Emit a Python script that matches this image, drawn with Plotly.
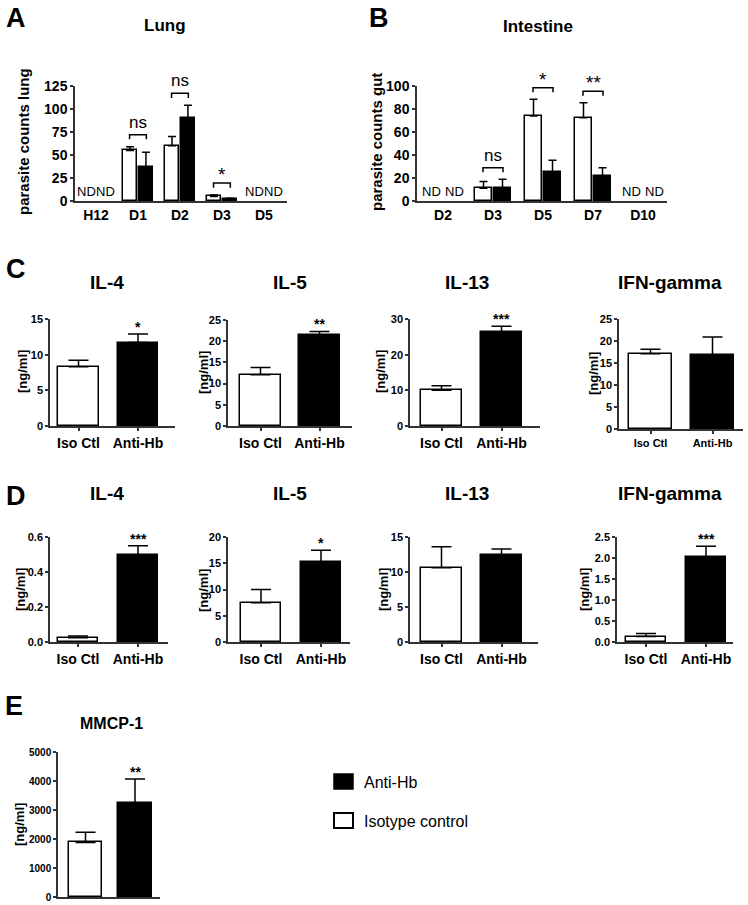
import plotly.graph_objects as go

W, H = 748, 905
OFF = 0  # body margin is removed by the post_script below
FONT = "Liberation Sans, Arial, sans-serif"

# ---------------- data ----------------
# Panel A: lung parasite counts
lung_days = ["H12", "D1", "D2", "D3", "D5"]
lung_iso = [None, 55, 60, 5, None]
lung_iso_sem = [None, 4, 10, 1.5, None]
lung_anti = [None, 37, 90, 2, None]
lung_anti_sem = [None, 16, 14, 1, None]
lung_sig = ["", "ns", "ns", "*", ""]

# Panel B: intestine parasite counts
gut_days = ["D2", "D3", "D5", "D7", "D10"]
gut_iso = [None, 11, 74, 72.5, None]
gut_iso_sem = [None, 6, 14.5, 13, None]
gut_anti = [None, 11.5, 25, 21.5, None]
gut_anti_sem = [None, 7.5, 10.5, 7.5, None]
gut_sig = ["", "ns", "*", "**", ""]

groups = ["Iso Ctl", "Anti-Hb"]

# Panel C
c_il4 = [8.3, 11.7];   c_il4_sem = [0.9, 1.2]
c_il5 = [12.1, 21.5];  c_il5_sem = [1.7, 0.8]
c_il13 = [10.0, 26.3]; c_il13_sem = [1.3, 1.7]
c_ifn = [17.1, 16.8];  c_ifn_sem = [1.0, 4.1]
c_sig = ["*", "**", "***", ""]

# Panel D
d_il4 = [0.025, 0.495]; d_il4_sem = [0.01, 0.055]
d_il5 = [7.5, 15.3];    d_il5_sem = [2.5, 2.2]
d_il13 = [10.6, 12.4];  d_il13_sem = [3.0, 0.9]
d_ifn = [0.13, 2.02];   d_ifn_sem = [0.07, 0.26]
d_sig = ["***", "*", "", "***"]

# Panel E
e_mmcp = [1880, 3230]; e_mmcp_sem = [350, 840]
e_sig = "**"

cyto_titles = ["IL-4", "IL-5", "IL-13", "IFN-gamma"]

# ---------------- helpers ----------------
fig = go.Figure()
layout = dict(width=W, height=H, margin=dict(l=0, r=0, t=0, b=0, pad=0, autoexpand=False),
              paper_bgcolor="white", plot_bgcolor="white", showlegend=False,
              bargap=0)
annotations = []
shapes = []
AX = "#333333"


def px_x(x):
    return (x - OFF) / W


def px_y(y):
    return 1 - (y - OFF) / H


def xdom(x0, x1):
    return [px_x(x0), px_x(x1)]


def ydom(top, bottom):
    return [px_y(bottom), px_y(top)]


def ann(text, x, y, size, bold=True, **kw):
    t = f"<b>{text}</b>" if bold else text
    d = dict(text=t, x=px_x(x), y=px_y(y), xref="paper", yref="paper",
             xanchor="center", yanchor="middle",
             showarrow=False, font=dict(family=FONT, size=size, color="black"))
    d.update(kw)
    annotations.append(d)


def add_axes(i, xd, yd, xr, yr, dtick, xfont, yfont, tickfmt=None, xticks=True, xlabels=True):
    sx = "" if i == 1 else str(i)
    layout["xaxis" + sx] = dict(domain=xd, range=xr, anchor="y" + sx, type="category",
                                automargin=False,
                                showline=True, linecolor=AX, linewidth=1.5,
                                ticks="outside" if xticks else "", ticklen=3, tickwidth=1.5,
                                tickcolor=AX, showgrid=False, zeroline=False,
                                showticklabels=xlabels,
                                tickfont=dict(family=FONT, size=xfont, color="black", weight="bold"),
                                fixedrange=True)
    layout["yaxis" + sx] = dict(domain=yd, range=yr, anchor="x" + sx, automargin=False,
                                showline=True, linecolor=AX, linewidth=1.5,
                                ticks="outside", ticklen=3, tickwidth=1.5, tickcolor=AX,
                                dtick=dtick, tick0=0, showgrid=False, zeroline=False,
                                tickfont=dict(family=FONT, size=yfont, color="black", weight="bold"),
                                tickformat=tickfmt, fixedrange=True)
    return "x" + sx, "y" + sx


def bar(xa, ya, cats, vals, sem, color, offset, width, capw):
    fig.add_trace(go.Bar(
        x=cats, y=vals, offset=offset, width=width, xaxis=xa, yaxis=ya,
        marker=dict(color=color, line=dict(color="black", width=1.5)),
        error_y=dict(type="data", symmetric=False, array=sem,
                     arrayminus=[0 if s is not None else None for s in sem],
                     color="black", thickness=1.5, width=capw),
        cliponaxis=False, showlegend=False, hoverinfo="x+y"))


# ---------------- panels A and B ----------------
def time_panel(i, xd, yd, xr, yr, dtick, days, iso, iso_sem, anti, anti_sem, sig, pad, tick, nd_gap):
    xa, ya = add_axes(i, xd, yd, xr, yr, dtick, 14, 14, xticks=False)
    bw = 0.34
    bar(xa, ya, days, iso, iso_sem, "white", -bw - 0.02, bw, 4)
    bar(xa, ya, days, anti, anti_sem, "black", 0.02, bw, 4)
    for k, day in enumerate(days):
        if iso[k] is None and anti[k] is None:
            for xa_, sh in (("right", -nd_gap), ("left", nd_gap)):
                annotations.append(dict(text="ND", x=k, y=0, xref=xa, yref=ya, xanchor=xa_,
                                        yanchor="bottom", showarrow=False, xshift=sh, yshift=0,
                                        font=dict(family=FONT, size=13, color="black")))
        if sig[k]:
            top = max(iso[k] + iso_sem[k], anti[k] + anti_sem[k])
            yb = top + pad
            x0, x1 = k - 0.2, k + 0.2
            shapes.append(dict(type="path", xref=xa, yref=ya,
                               path=f"M {x0},{yb - tick} L {x0},{yb} L {x1},{yb} L {x1},{yb - tick}",
                               line=dict(color="black", width=1.5)))
            is_star = sig[k].startswith("*")
            annotations.append(dict(text=sig[k], x=k, y=yb, xref=xa, yref=ya,
                                    xanchor="center", yanchor="bottom", showarrow=False,
                                    yshift=-4 if is_star else 1,
                                    font=dict(family=FONT, size=19 if is_star else 17, color="black")))


time_panel(1, xdom(75, 287), ydom(86, 201), [-0.5, 4.55], [0, 125], 25,
           lung_days, lung_iso, lung_iso_sem, lung_anti, lung_anti_sem, lung_sig, 13, 5, -2)
time_panel(2, xdom(417, 667), ydom(86, 201), [-0.52, 4.48], [0, 100], 20,
           gut_days, gut_iso, gut_iso_sem, gut_anti, gut_anti_sem, gut_sig, 10, 4, 0)

ann("A", 16, 18, 27)
ann("B", 379, 18, 27)
ann("Lung", 165, 26, 17)
ann("Intestine", 538, 27, 17)
ann("parasite counts lung", 24, 142, 15, textangle=-90)
ann("parasite counts gut", 377, 142, 15, textangle=-90)


# ---------------- panels C, D, E ----------------
def group_panel(i, x0, x1, c0, c1, top, bottom, yr, dtick, vals, sem, sig, xfont, yfont,
                tickfmt=None, xlabels=True, xticks=True, capw=10, star_size=14):
    span = c1 - c0
    xr = [(x0 - c0) / span, (x1 - c0) / span]
    xa, ya = add_axes(i, xdom(x0, x1), ydom(top, bottom), xr, yr, dtick, xfont, yfont,
                      tickfmt=tickfmt, xticks=xticks, xlabels=xlabels)
    bw = 0.68
    fig.add_trace(go.Bar(
        x=groups, y=vals, offset=-bw / 2, width=bw, xaxis=xa, yaxis=ya,
        marker=dict(color=["white", "black"], line=dict(color="black", width=1.5)),
        error_y=dict(type="data", symmetric=False, array=sem, arrayminus=[0, 0],
                     color="black", thickness=1.5, width=capw),
        cliponaxis=False, showlegend=False))
    if sig:
        annotations.append(dict(text=f"<b>{sig}</b>", x=1, y=vals[1] + sem[1], xref=xa, yref=ya,
                                xanchor="center", yanchor="bottom", showarrow=False, yshift=-3,
                                font=dict(family=FONT, size=star_size, color="black")))


# row C
group_panel(3, 50, 175, 78.5, 138, 319, 426, [0, 15], 5, c_il4, c_il4_sem, c_sig[0], 14, 11)
group_panel(4, 228, 352, 260.5, 319.5, 320, 426, [0, 25], 5, c_il5, c_il5_sem, c_sig[1], 14, 11)
group_panel(5, 410, 540, 441.5, 501.5, 319, 426, [0, 30], 10, c_il13, c_il13_sem, c_sig[2], 14, 11)
group_panel(6, 619, 743, 650.5, 712.5, 319, 429, [0, 25], 5, c_ifn, c_ifn_sem, c_sig[3], 11, 11)

# row D
group_panel(7, 50, 168, 78, 138, 537, 642, [0, 0.6], 0.2, d_il4, d_il4_sem, d_sig[0], 14, 11, tickfmt=".1f")
group_panel(8, 228, 350, 261, 321, 537, 642, [0, 20], 5, d_il5, d_il5_sem, d_sig[1], 14, 11)
group_panel(9, 410, 538, 441.5, 501.5, 537, 642, [0, 15], 5, d_il13, d_il13_sem, d_sig[2], 14, 11)
group_panel(10, 617, 733, 646, 706, 537, 642, [0, 2.5], 0.5, d_ifn, d_ifn_sem, d_sig[3], 14, 11, tickfmt=".1f")

# row E
group_panel(11, 58, 160, 85.5, 135, 752, 897, [0, 5000], 1000, e_mmcp, e_mmcp_sem, e_sig, 14, 10,
            xlabels=False, xticks=False)

ann("C", 16, 269, 27)
ann("D", 16, 496, 27)
ann("E", 14, 706, 27)
for tx, t in zip([107, 290, 467, 670], cyto_titles):
    ann(t, tx, 282, 19)
    ann(t, tx, 493, 19)
ann("MMCP-1", 112, 723, 16)

for x, y in [(22, 372), (203, 372), (380, 372), (594, 374),
             (20, 590), (203, 590), (383, 590), (584, 590), (19, 825)]:
    ann("[ng/ml]", x, y, 13, textangle=-90)

# custom legend
shapes.append(dict(type="rect", xref="paper", yref="paper",
                   x0=px_x(334), x1=px_x(353), y0=px_y(789), y1=px_y(774),
                   fillcolor="black", line=dict(color="black", width=1.5)))
shapes.append(dict(type="rect", xref="paper", yref="paper",
                   x0=px_x(334), x1=px_x(353), y0=px_y(828), y1=px_y(813),
                   fillcolor="white", line=dict(color="black", width=2)))
ann("Anti-Hb", 362, 782, 16, bold=False, xanchor="left")
ann("Isotype control", 362, 821, 16, bold=False, xanchor="left")

layout["annotations"] = annotations
layout["shapes"] = shapes
fig.update_layout(**layout)
fig.write_html("out.html", config={"displayModeBar": False},
               post_script="document.body.style.margin='0px';")
